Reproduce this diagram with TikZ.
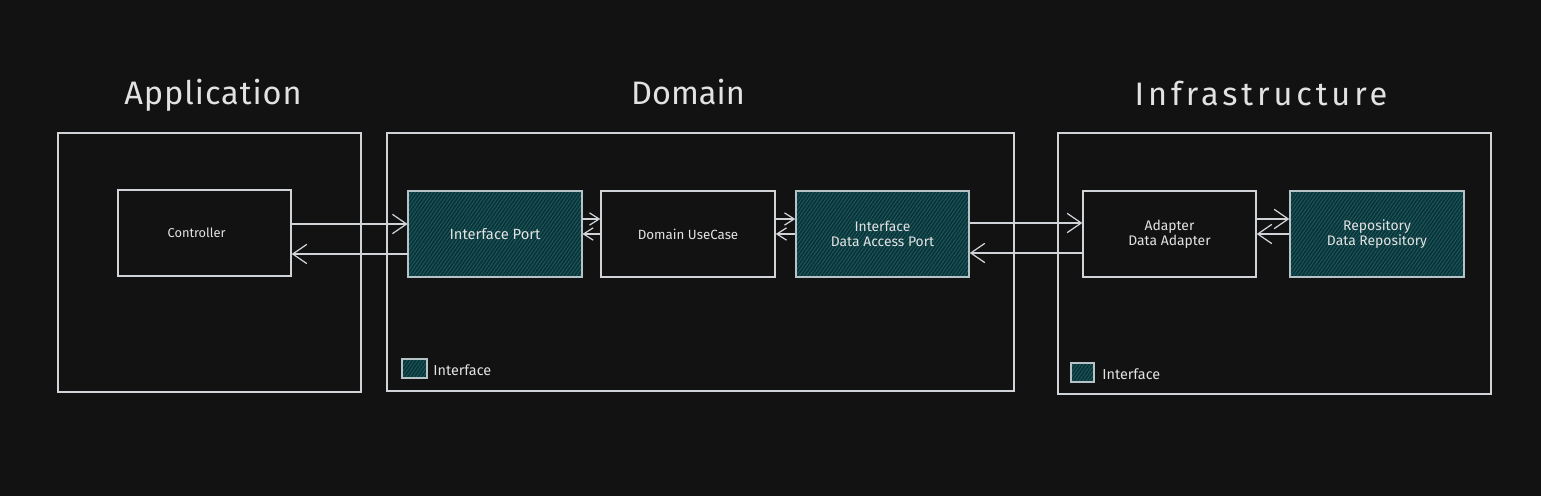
\documentclass[tikz,border=0pt]{standalone}
\usepackage{fontspec}
\setmainfont{Fira Sans}
\usetikzlibrary{calc,arrows.meta,patterns.meta}
\definecolor{bg}{HTML}{121212}
\definecolor{stroke}{HTML}{D0D4D8}
\definecolor{txt}{HTML}{E2E2E2}
\definecolor{tealbase}{HTML}{0C3438}
\definecolor{tealhatch}{HTML}{1B5D63}
\newfontfamily\titlefontA[LetterSpace=3]{Fira Sans}
\newfontfamily\titlefontB[LetterSpace=12]{Fira Sans}
\tikzset{
  layer/.style={draw=stroke, line width=0.8pt, anchor=center, inner sep=0pt},
  plainbox/.style={draw=stroke, line width=0.8pt, text=txt, font=\fontsize{7.9}{8.6}\selectfont, align=center, inner sep=0pt},
  ifbox/.style={plainbox, draw=stroke!85!tealhatch, preaction={fill=tealbase},
    pattern={Lines[angle=55,distance=1.6pt,line width=0.45pt]}, pattern color=tealhatch},
  title/.style={text=txt, font=\fontsize{18.5}{20}\selectfont},
  legtext/.style={text=txt, font=\fontsize{8.2}{9}\selectfont, anchor=west, inner sep=0pt},
  arr/.style={draw=stroke, line width=0.7pt, -{Straight Barb[length=8pt,width=11pt]}},
  sarr/.style={draw=stroke, line width=0.7pt, -{Straight Barb[length=5.5pt,width=7pt]}},
}
\begin{document}
\begin{tikzpicture}[x=0.02cm,y=-0.02cm]
\useasboundingbox[fill=bg] (0,0) rectangle (1541,496);

% titles
\node[title] (tapp) at (213,95) {\titlefontA Application};
\node[title] (tdom) at (688,92) {Domain};
\node[title] (tinf) at (1261,94) {\titlefontB Infrastructure};

% layers
\node[layer, minimum width=303*0.02cm, minimum height=259*0.02cm] (app) at (209.5,262.5) {};
\node[layer, minimum width=627*0.02cm, minimum height=258*0.02cm] (dom) at (700.5,262) {};
\node[layer, minimum width=433*0.02cm, minimum height=261*0.02cm] (inf) at (1274.5,263.5) {};

% inner boxes
\node[plainbox, minimum width=173*0.02cm, minimum height=86*0.02cm, font=\fontsize{7.3}{8.6}\selectfont] (ctrl) at (204.5,233) {\hspace*{-9pt}Controller};
\node[ifbox, minimum width=174*0.02cm, minimum height=86*0.02cm, font=\fontsize{8.4}{8.6}\selectfont] (ip) at (495,234) {Interface Port};
\node[plainbox, minimum width=174*0.02cm, minimum height=86*0.02cm, font=\fontsize{7.6}{8.6}\selectfont] (uc) at (688,234) {Domain UseCase};
\node[ifbox, minimum width=173*0.02cm, minimum height=86*0.02cm] (dap) at (882.5,234) {Interface\\Data Access Port};
\node[plainbox, minimum width=173*0.02cm, minimum height=86*0.02cm] (ad) at (1169.5,234) {Adapter\\Data Adapter};
\node[ifbox, minimum width=174*0.02cm, minimum height=86*0.02cm] (repo) at (1377,234) {Repository\\Data Repository};

% legends
\node[ifbox, minimum width=25*0.02cm, minimum height=19*0.02cm] (leg1) at (414.5,368.5) {};
\node[legtext] (leg1t) at (433,370.5) {Interface};
\node[ifbox, minimum width=23*0.02cm, minimum height=19*0.02cm] (leg2) at (1082.5,372.5) {};
\node[legtext] (leg2t) at (1102,374.5) {Interface};

% connectors
\draw[arr] ($(ctrl.east)+(0,-9)$) -- ($(ip.west)+(0,-10)$);
\draw[arr] ($(ip.west)+(0,20)$) -- ($(ctrl.east)+(0,21)$);
\draw[sarr] ($(ip.east)+(0,-15)$) -- ($(uc.west)+(0,-15)$);
\draw[sarr] (uc.west) -- (ip.east);
\draw[sarr] ($(uc.east)+(0,-15)$) -- ($(dap.west)+(0,-15)$);
\draw[sarr] (dap.west) -- (uc.east);
\draw[arr] ($(dap.east)+(0,-11)$) -- ($(ad.west)+(0,-11)$);
\draw[arr] ($(ad.west)+(2,19)$) -- ($(dap.east)+(0,19)$);
\draw[arr] ($(ad.east)+(0,-15)$) -- ($(repo.west)+(0,-15)$);
\draw[arr] (repo.west) -- (ad.east);
\end{tikzpicture}
\end{document}
